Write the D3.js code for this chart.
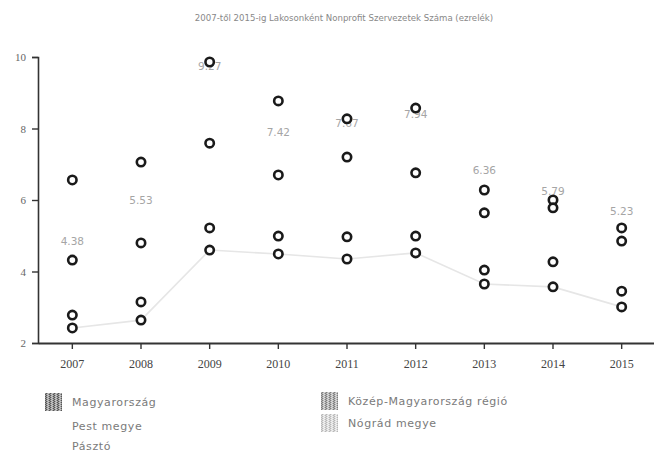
<!DOCTYPE html>
<html>
<head>
<meta charset="utf-8">
<script src="https://cdn.jsdelivr.net/npm/d3@7"></script>
<style>
  html, body { margin: 0; padding: 0; background: #fff; }
  svg { display: block; }
</style>
</head>
<body>
<svg id="chart" width="654" height="452"></svg>
<script>
const years = ["2007", "2008", "2009", "2010", "2011", "2012", "2013", "2014", "2015"];
const yTicks = [2, 4, 6, 8, 10];
const titleText = "2007-től 2015-ig Lakosonként Nonprofit Szervezetek Száma (ezrelék)";
const seriesNames = ["Magyarország", "Közép-Magyarország régió", "Pest megye", "Nógrád megye", "Pásztó"];
const serTop    = [6.56, 7.06, 9.86, 8.77, 8.27, 8.57, 6.28, 6.00, 5.22];
const serSecond = [4.32, 4.80, 7.59, 6.70, 7.20, 6.76, 5.64, 5.78, 4.85];
const serThird  = [2.78, 3.15, 5.22, 4.99, 4.97, 4.99, 4.04, 4.27, 3.45];
const serBottom = [2.42, 2.64, 4.60, 4.49, 4.35, 4.52, 3.65, 3.57, 3.01];
const serLabels = [4.38, 5.53, 9.27, 7.42, 7.67, 7.94, 6.36, 5.79, 5.23];

const svg = d3.select("#chart");
const marginLeft = 38;

const x = d3.scaleBand().domain(years).range([marginLeft, 656]).padding(0);
const xc = d => x(d) + x.bandwidth() / 2;
const y = d3.scaleLinear().domain([2, 10]).range([343, 57]);

// defs: patterns for legend swatches
const defs = svg.append("defs");
function makePattern(id, cols) {
  const p = defs.append("pattern").attr("id", id).attr("width", 4).attr("height", 4)
    .attr("patternUnits", "userSpaceOnUse");
  const cells = [[0,0],[2,0],[1,1],[3,1],[0,2],[2,2],[1,3],[3,3]];
  p.append("rect").attr("width", 4).attr("height", 4).attr("fill", cols[0]);
  cells.forEach((c, i) => p.append("rect").attr("x", c[0]).attr("y", c[1]).attr("width", 1).attr("height", 1).attr("fill", cols[1 + (i % 2)]));
}
makePattern("pDark", ["#9a9a9a", "#555", "#c8c8c8"]);
makePattern("pMid", ["#b4b4b4", "#7e7e7e", "#dcdcdc"]);
makePattern("pLight", ["#dadada", "#b8b8b8", "#f2f2f2"]);

// title
svg.append("text").attr("x", 344).attr("y", 21).attr("text-anchor", "middle")
  .attr("font-family", "DejaVu Sans, sans-serif").attr("font-size", 8.6).attr("fill", "#888")
  .text(titleText);

// faint line for bottom series
const line = d3.line().x((d, i) => xc(years[i])).y(d => y(d));
svg.append("path").datum(serBottom).attr("d", line).attr("fill", "none")
  .attr("stroke", "#e6e6e6").attr("stroke-width", 1.6);

// axes
const yAxis = d3.axisLeft(y).tickValues(yTicks).tickSize(6).tickFormat(d3.format("d"));
const gy = svg.append("g").attr("transform", `translate(${marginLeft},0)`).call(yAxis);
gy.select(".domain").attr("stroke", "#333").attr("stroke-width", 1.6);
gy.selectAll(".tick line").attr("stroke", "#333").attr("stroke-width", 1.4);
gy.selectAll(".tick text").attr("font-family", "Liberation Serif, serif").attr("font-size", 11).attr("fill", "#666").attr("dx", -3);

const xAxis = d3.axisBottom(x).tickSize(6).tickSizeOuter(0);
const gx = svg.append("g").attr("transform", "translate(0,343)").call(xAxis);
gx.select(".domain").attr("stroke", "#333").attr("stroke-width", 2.2);
gx.selectAll(".tick line").attr("stroke", "#333").attr("stroke-width", 1.4);
gx.selectAll(".tick text").attr("font-family", "Liberation Serif, serif").attr("font-size", 12).attr("fill", "#444").attr("dy", 16);

// data labels
svg.append("g").selectAll("text").data(serLabels).join("text")
  .attr("x", (d, i) => xc(years[i])).attr("y", d => y(d) - 13)
  .attr("text-anchor", "middle").attr("font-family", "DejaVu Sans, sans-serif")
  .attr("font-size", 10.5).attr("fill", "#a5a5a5").text(d => d.toFixed(2));

// circles
[serTop, serSecond, serThird, serBottom].forEach(s => {
  svg.append("g").selectAll("circle").data(s).join("circle")
    .attr("cx", (d, i) => xc(years[i])).attr("cy", d => y(d)).attr("r", 4.2)
    .attr("fill", "#fff").attr("stroke", "#1a1a1a").attr("stroke-width", 2.6);
});

// legend
const legendItems = [
  {name: seriesNames[0], fill: "url(#pDark)", x: 45, y: 402},
  {name: seriesNames[1], fill: "url(#pMid)", x: 321, y: 401},
  {name: seriesNames[2], fill: "none", x: 45, y: 426},
  {name: seriesNames[3], fill: "url(#pLight)", x: 321, y: 423},
  {name: seriesNames[4], fill: "none", x: 45, y: 446}
];
const lg = svg.append("g").selectAll("g").data(legendItems).join("g")
  .attr("transform", d => `translate(${d.x},${d.y})`);
lg.append("rect").attr("x", 0).attr("y", -9).attr("width", 17).attr("height", 18)
  .attr("fill", d => d.fill);
lg.append("text").attr("x", 27).attr("y", 4).attr("font-family", "DejaVu Sans, sans-serif")
  .attr("font-size", 11).attr("letter-spacing", 0.6).attr("fill", "#7a7a7a").text(d => d.name);
</script>
</body>
</html>
